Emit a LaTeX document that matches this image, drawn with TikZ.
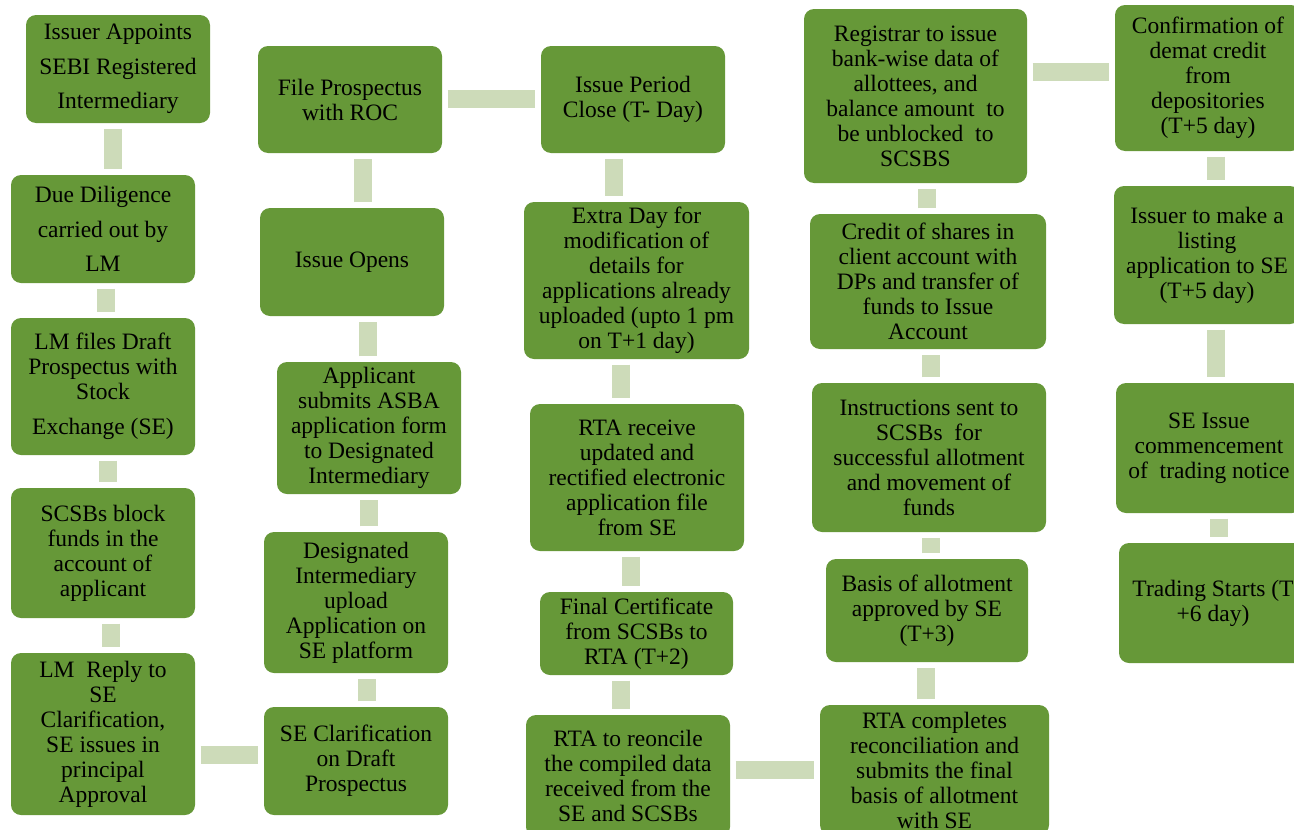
\documentclass[tikz,border=0pt]{standalone}
\usepackage{fontspec}
\setmainfont{Liberation Serif}
\definecolor{boxgreen}{RGB}{102,152,56}
\definecolor{barcol}{RGB}{205,219,185}
\tikzset{
  box/.style={fill=boxgreen, rounded corners=10pt, align=center, inner sep=0pt, text=black,
    font=\fontsize{23.5}{25}\selectfont},
  widebox/.style={box, font=\fontsize{23.5}{34.5}\selectfont},
  bar/.style={draw=barcol, line width=18pt, shorten >=5.5pt, shorten <=5.5pt}
}
\begin{document}
\begin{tikzpicture}[x=1pt,y=-1pt]
\useasboundingbox (0,0) rectangle (1294,830);
\clip (0,0) rectangle (1294,830);
% column 1
\node[widebox, minimum width=184, minimum height=108] (A1) at (118,69) {Issuer Appoints\\SEBI Registered\\Intermediary};
\node[widebox, minimum width=184, minimum height=108] (A2) at (103,229) {Due Diligence\\carried out by\\LM};
\node[box, minimum width=184, minimum height=137] (A3) at (103,386.5) {LM files Draft\\Prospectus with\\Stock\\[10pt]Exchange (SE)};
\node[box, minimum width=184, minimum height=130] (A4) at (103,553) {SCSBs block\\funds in the\\account of\\applicant};
\node[box, minimum width=184, minimum height=162] (A5) at (103,734) {LM~~Reply to\\SE\\Clarification,\\SE issues in\\principal\\Approval};
% column 2
\node[box, minimum width=184, minimum height=108] (B6) at (356,761) {SE Clarification\\on Draft\\Prospectus};
\node[box, minimum width=184, minimum height=141] (B5) at (356,602.5) {Designated\\Intermediary\\upload\\Application on\\SE platform};
\node[box, minimum width=184, minimum height=132] (B4) at (369,428) {Applicant\\submits ASBA\\application form\\to Designated\\Intermediary};
\node[box, minimum width=184, minimum height=108] (B3) at (352,262) {Issue Opens};
\node[box, minimum width=184, minimum height=107] (B2) at (350,99.5) {File Prospectus\\with ROC};
% column 3
\node[box, minimum width=184, minimum height=107] (C1) at (633,99.5) {Issue Period\\Close (T- Day)};
\node[box, minimum width=225, minimum height=157] (C2) at (636.5,280.5) {Extra Day for\\modification of\\details for\\applications already\\uploaded (upto 1 pm\\on T+1 day)};
\node[box, minimum width=214, minimum height=147] (C3) at (637,477.5) {RTA receive\\updated and\\rectified electronic\\application file\\from SE};
\node[box, minimum width=193, minimum height=83] (C4) at (636.5,633.5) {Final Certificate\\from SCSBs to\\RTA (T+2)};
\node[box, minimum width=204, minimum height=122] (C5) at (628,776) {RTA to reoncile\\the compiled data\\received from the\\SE and SCSBs};
% column 4
\node[box, minimum width=229, minimum height=130] (D5) at (934.5,770) {RTA completes\\reconciliation and\\submits the final\\basis of allotment\\with SE};
\node[box, minimum width=202, minimum height=103] (D4) at (927,610.5) {Basis of allotment\\approved by SE\\(T+3)};
\node[box, minimum width=234, minimum height=149] (D3) at (929,457.5) {Instructions sent to\\SCSBs~ for\\successful allotment\\and movement of\\funds};
\node[box, minimum width=236, minimum height=135] (D2) at (928,281.5) {Credit of shares in\\client account with\\DPs and transfer of\\funds to Issue\\Account};
\node[box, minimum width=223, minimum height=174] (D1) at (915.5,96) {Registrar to issue\\bank-wise data of\\allottees, and\\balance amount~ to\\be unblocked~ to\\SCSBS};
% column 5
\node[box, minimum width=186, minimum height=146] (E1) at (1208,78) {Confirmation of\\demat credit\\from\\depositories\\(T+5 day)};
\node[box, minimum width=186, minimum height=138] (E2) at (1207,255) {Issuer to make a\\listing\\application to SE\\(T+5 day)};
\node[box, minimum width=186, minimum height=130] (E3) at (1209,448) {SE Issue\\commencement\\of~ trading notice};
\node[box, minimum width=188, minimum height=120] (E4) at (1213,603) {Trading Starts (T\\+6 day)};
% bar positions
\coordinate (k1) at (112.5,0);
\coordinate (k2) at (106,0);
\coordinate (k3) at (108,0);
\coordinate (k4) at (110.5,0);
\coordinate (h1) at (0,755);
\coordinate (k5) at (366.5,0);
\coordinate (k6) at (368.5,0);
\coordinate (k7) at (368,0);
\coordinate (k8) at (362.5,0);
\coordinate (h2) at (0,98.5);
\coordinate (k9) at (613.5,0);
\coordinate (k10) at (620.5,0);
\coordinate (k11) at (631,0);
\coordinate (k12) at (621,0);
\coordinate (h3) at (0,770);
\coordinate (k13) at (926,0);
\coordinate (k14) at (931,0);
\coordinate (k15) at (931,0);
\coordinate (k16) at (926.5,0);
\coordinate (h4) at (0,71.5);
\coordinate (k17) at (1216,0);
\coordinate (k18) at (1215.5,0);
\coordinate (k19) at (1218.5,0);
% connectors
\draw[bar] (A1.south -| k1) -- (A2.north -| k1);
\draw[bar] (A2.south -| k2) -- (A3.north -| k2);
\draw[bar] (A3.south -| k3) -- (A4.north -| k3);
\draw[bar] (A4.south -| k4) -- (A5.north -| k4);
\draw[bar] (A5.east |- h1) -- (B6.west |- h1);
\draw[bar] (B6.north -| k5) -- (B5.south -| k5);
\draw[bar] (B5.north -| k6) -- (B4.south -| k6);
\draw[bar] (B4.north -| k7) -- (B3.south -| k7);
\draw[bar] (B3.north -| k8) -- (B2.south -| k8);
\draw[bar] (B2.east |- h2) -- (C1.west |- h2);
\draw[bar] (C1.south -| k9) -- (C2.north -| k9);
\draw[bar] (C2.south -| k10) -- (C3.north -| k10);
\draw[bar] (C3.south -| k11) -- (C4.north -| k11);
\draw[bar] (C4.south -| k12) -- (C5.north -| k12);
\draw[bar] (C5.east |- h3) -- (D5.west |- h3);
\draw[bar] (D5.north -| k13) -- (D4.south -| k13);
\draw[bar] (D4.north -| k14) -- (D3.south -| k14);
\draw[bar] (D3.north -| k15) -- (D2.south -| k15);
\draw[bar] (D2.north -| k16) -- (D1.south -| k16);
\draw[bar] (D1.east |- h4) -- (E1.west |- h4);
\draw[bar] (E1.south -| k17) -- (E2.north -| k17);
\draw[bar] (E2.south -| k18) -- (E3.north -| k18);
\draw[bar] (E3.south -| k19) -- (E4.north -| k19);
\end{tikzpicture}
\end{document}
